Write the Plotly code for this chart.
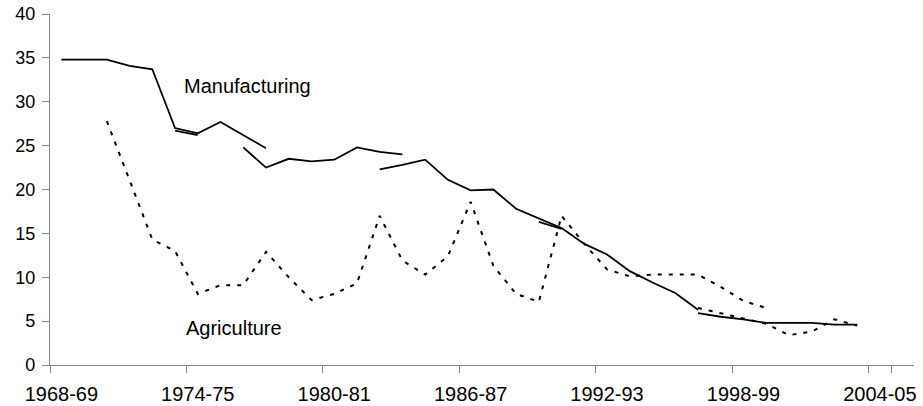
import plotly.graph_objects as go

# Financial years on the category axis
years = [f"{y}-{str(y + 1)[-2:]}" for y in range(1968, 2006)]
tick_labels = ["1968-69", "1974-75", "1980-81", "1986-87", "1992-93", "1998-99", "2004-05"]

# Manufacturing (several overlapping base-year series)
mfg_a_start = "1968-69"
mfg_a = [34.8, 34.8, 34.8, 34.1, 33.7, 27.0, 26.4, 27.7, 26.2, 24.7]
mfg_b_start = "1973-74"
mfg_b = [26.7, 26.2]
mfg_c_start = "1976-77"
mfg_c = [24.8, 22.5, 23.5, 23.2, 23.4, 24.8, 24.3, 24.0]
mfg_d_start = "1982-83"
mfg_d = [22.3, 22.8, 23.4, 21.1, 19.9, 20.0, 17.8, 16.7, 15.6, 13.8, 12.6, 10.7, 9.4, 8.2, 6.3]
mfg_e_start = "1989-90"
mfg_e = [16.3, 15.5]
mfg_f_start = "1996-97"
mfg_f = [5.9, 5.5, 5.2, 4.8, 4.8, 4.8, 4.6, 4.6]

# Agriculture
agr_a_start = "1970-71"
agr_a = [27.8, 21.0, 14.3, 13.0, 8.1, 9.1, 9.1, 12.9, 10.0, 7.4, 8.1, 9.3, 17.0, 11.9,
         10.3, 12.4, 18.6, 11.3, 8.1, 7.2, 17.0, 13.8, 10.9, 10.1, 10.3, 10.3, 10.3,
         8.9, 7.3, 6.5]
agr_b_start = "1996-97"
agr_b = [6.5, 5.9, 5.3, 4.7, 3.4, 3.8, 5.2, 4.5]


def seg_x(start, vals):
    i = years.index(start)
    return years[i:i + len(vals)]


FONT = "Liberation Sans, Arial, sans-serif"
AXIS = "#868686"

fig = go.Figure()
for start, vals in [(mfg_a_start, mfg_a), (mfg_b_start, mfg_b), (mfg_c_start, mfg_c),
                    (mfg_d_start, mfg_d), (mfg_e_start, mfg_e), (mfg_f_start, mfg_f)]:
    fig.add_trace(go.Scatter(x=seg_x(start, vals), y=vals, mode="lines",
                             line=dict(color="black", width=1.8),
                             showlegend=False, hoverinfo="skip"))
for start, vals in [(agr_a_start, agr_a), (agr_b_start, agr_b)]:
    fig.add_trace(go.Scatter(x=seg_x(start, vals), y=vals, mode="lines",
                             line=dict(color="black", width=2, dash="4px,7px"),
                             showlegend=False, hoverinfo="skip"))

fig.add_annotation(x=5.29, y=31.8, text="Manufacturing", showarrow=False,
                   xanchor="left", yanchor="middle",
                   font=dict(family=FONT, size=20, color="black"))
fig.add_annotation(x=5.4, y=4.2, text="Agriculture", showarrow=False,
                   xanchor="left", yanchor="middle",
                   font=dict(family=FONT, size=20, color="black"))

fig.update_layout(
    width=923, height=406,
    margin=dict(l=50, r=8.5, t=14, b=41),
    plot_bgcolor="white", paper_bgcolor="white",
    font=dict(family=FONT, color="black"),
    xaxis=dict(type="category", categoryorder="array", categoryarray=years,
               range=[-0.5, len(years) - 0.5], tickmode="array",
               tickvals=tick_labels, ticktext=tick_labels, tickangle=0,
               tickson="boundaries", ticks="outside", ticklen=7, tickcolor=AXIS,
               showline=True, linecolor=AXIS, linewidth=1.3, showgrid=False,
               tickfont=dict(size=20), zeroline=False, automargin=False,
               ticklabelstandoff=11, ticklabeloverflow="allow"),
    yaxis=dict(range=[0, 40], tickmode="linear", tick0=0, dtick=5,
               ticks="outside", ticklen=7, tickcolor=AXIS,
               showline=True, linecolor=AXIS, linewidth=1.3, showgrid=False,
               zeroline=False, tickfont=dict(size=18), automargin=False,
               ticklabelstandoff=3, ticklabeloverflow="allow"),
)

# Remove the default 8px page margin so the figure fills the window exactly
fig.write_html("out.html", config={"displayModeBar": False},
               post_script="document.body.style.margin='0';document.body.style.overflow='hidden';")
